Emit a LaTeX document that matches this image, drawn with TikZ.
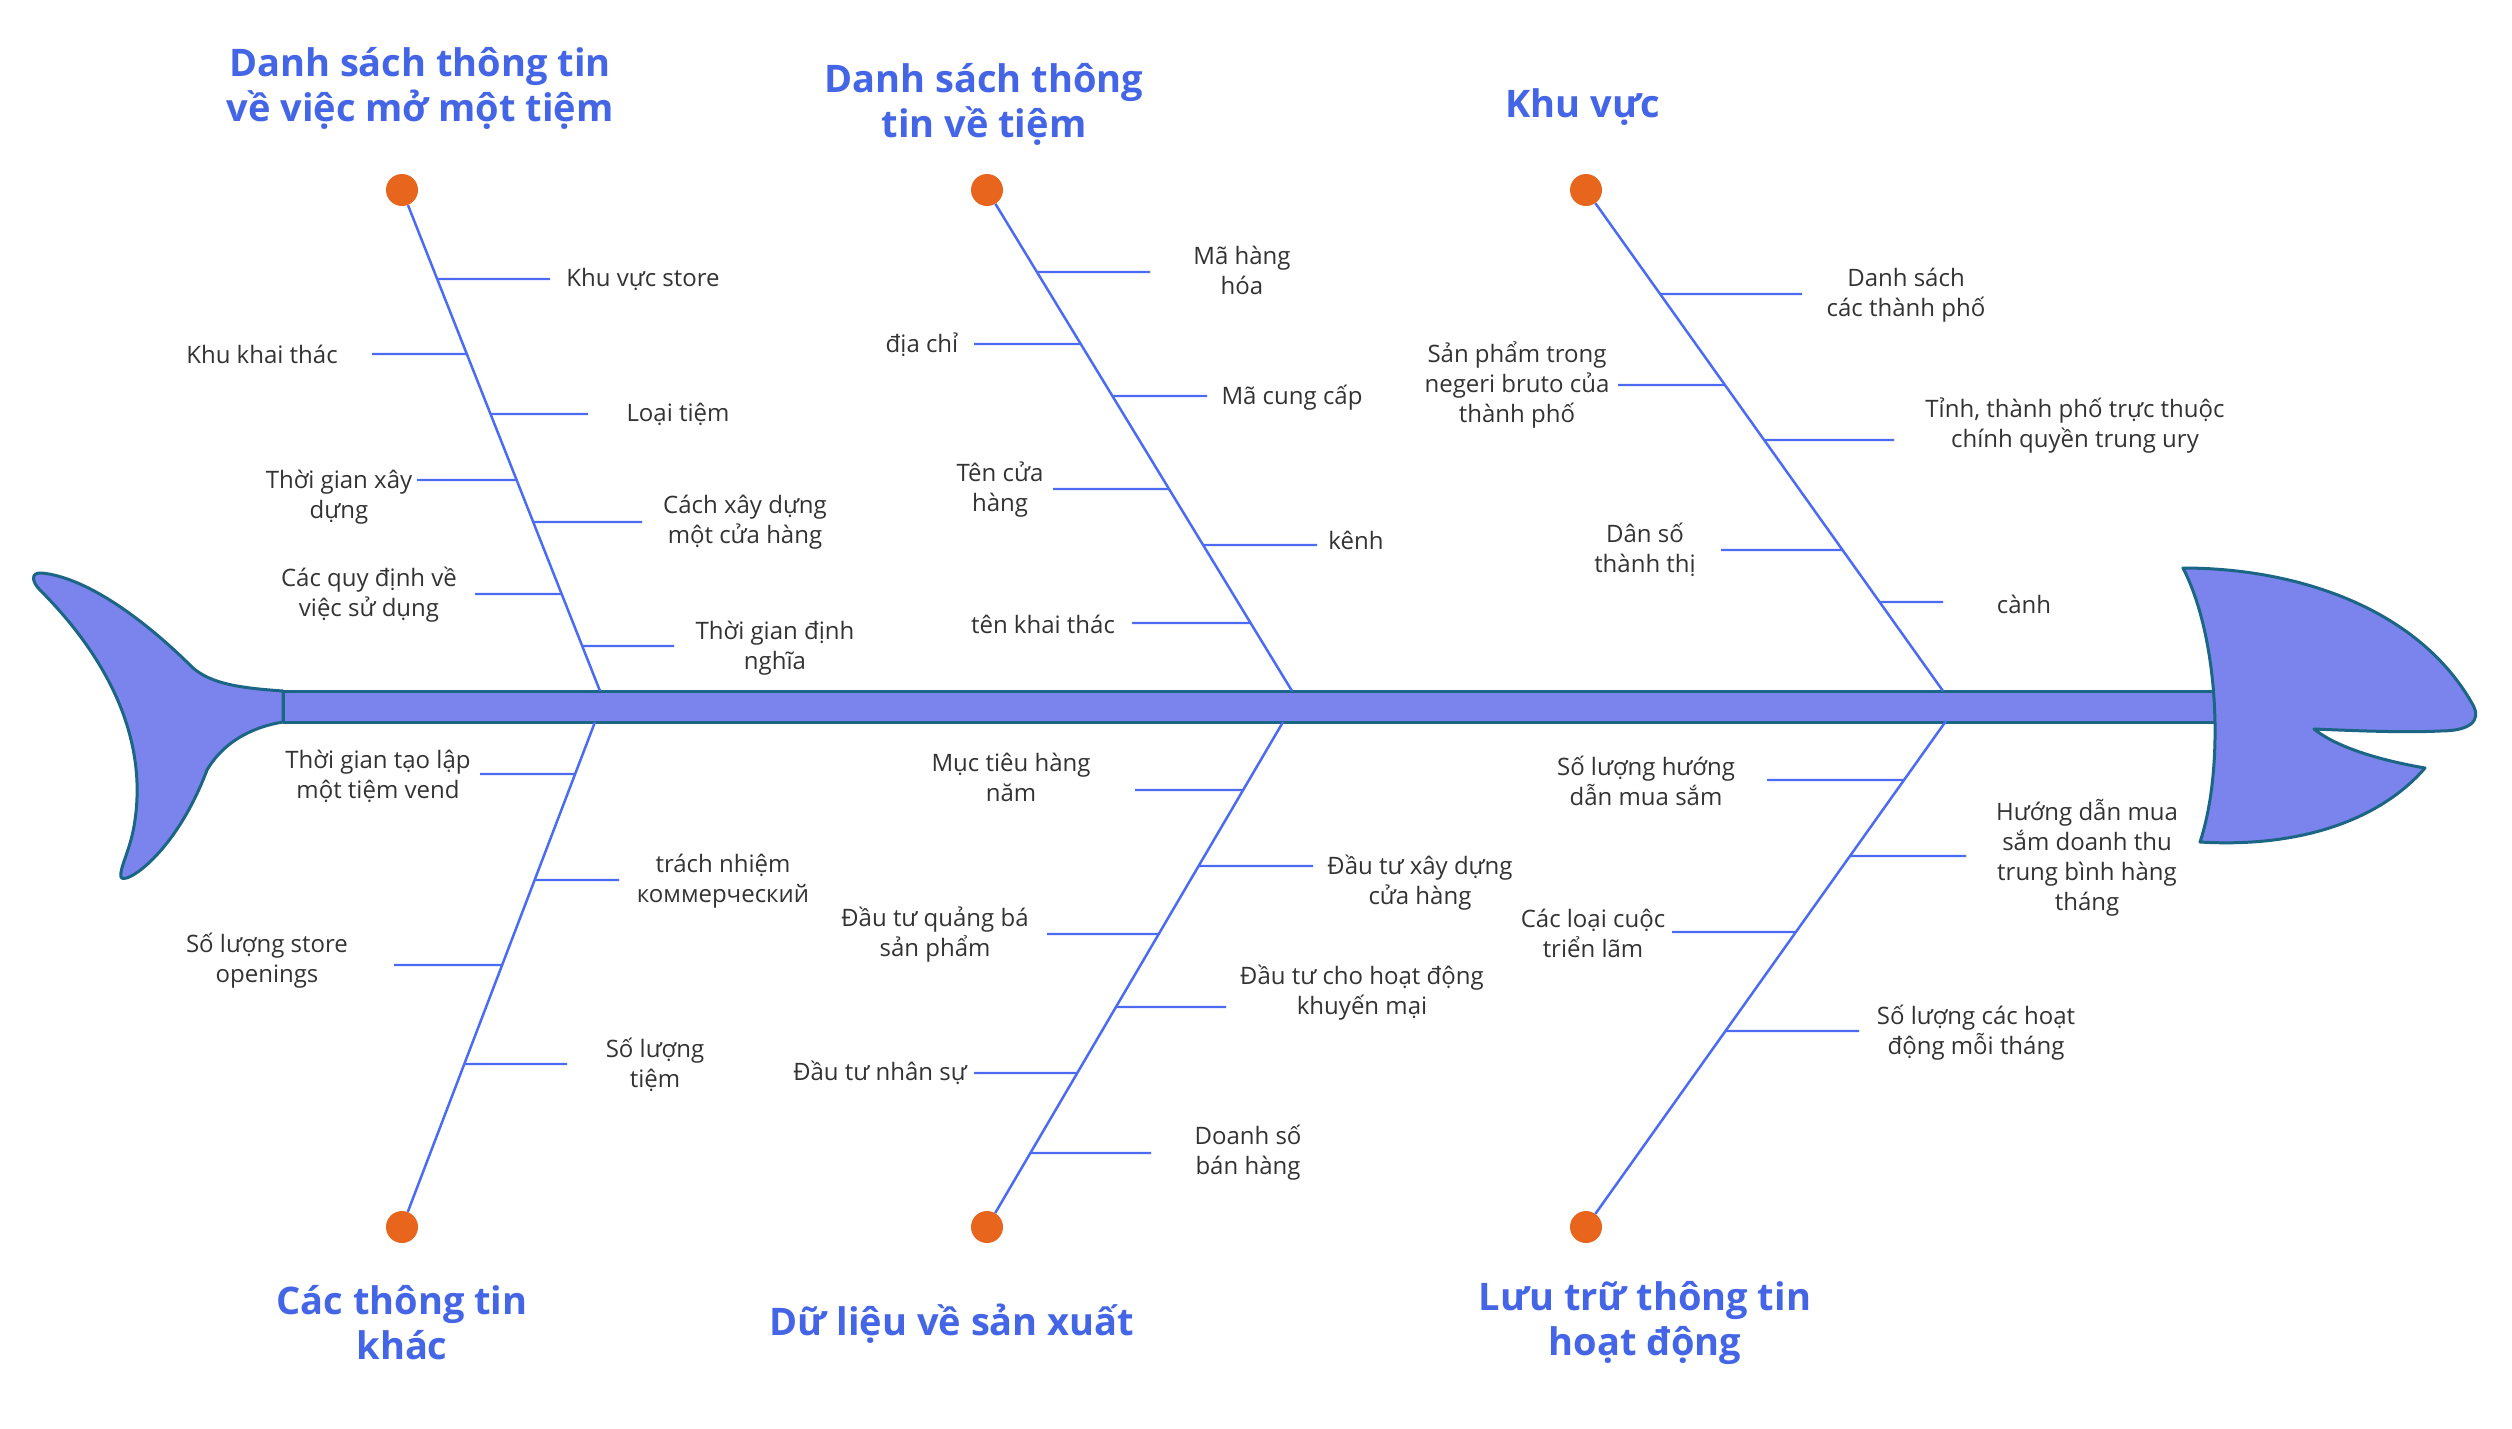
\documentclass[tikz,border=0pt]{standalone}
\usepackage{fontspec}
\setmainfont{Open Sans}
\usetikzlibrary{calc}
\definecolor{Body}{HTML}{7A84EC}
\definecolor{Edge}{HTML}{1B6585}
\definecolor{Bone}{HTML}{4B6CF2}
\definecolor{Head}{HTML}{4466E6}
\definecolor{Dot}{HTML}{E8651E}
\definecolor{Ink}{HTML}{333333}

\begin{document}
\begin{tikzpicture}[x=1pt,y=-1pt,
  fish/.style={fill=Body,draw=Edge,line width=3pt,line join=round},
  bone/.style={Bone,line width=2.5pt},
  rib/.style={Bone,line width=2.2pt},
  dot/.style={circle,fill=Dot,inner sep=0pt,minimum size=32pt},
  lbl/.style={text=Ink,align=center,inner sep=0pt,font=\fontsize{24}{30}\selectfont},
  ttl/.style={text=Head,align=center,inner sep=0pt,font=\fontsize{38}{45}\selectfont\bfseries}]
  \fill[white] (0,0) rectangle (2512,1428);
  \useasboundingbox (0,0) rectangle (2512,1428);

  % tail, spine, head
  \draw[fish] (283,691) .. controls (240,688) and (212,684) .. (193,668)
    .. controls (150,625) and (90,578) .. (42,573)
    .. controls (30,572) and (32,582) .. (40,590)
    .. controls (100,650) and (148,730) .. (135,820)
    .. controls (131,850) and (119,868) .. (121,877)
    .. controls (124,886) and (175,855) .. (207,770)
    .. controls (226,738) and (258,726) .. (283,722) -- cycle;
  \draw[fish] (283,691) rectangle (2215,722);
  \draw[fish] (2183,568) .. controls (2300,568) and (2420,610) .. (2473,705)
    .. controls (2482,722) and (2468,731) .. (2440,731)
    .. controls (2400,733) and (2340,730) .. (2314,729)
    .. controls (2340,750) and (2390,762) .. (2425,768)
    .. controls (2380,820) and (2300,848) .. (2200,842)
    .. controls (2224,770) and (2220,640) .. (2183,568) -- cycle;

  % big bones
  \node[dot] (d1) at (402,190) {};
  \node[dot] (d2) at (987,190) {};
  \node[dot] (d3) at (1586,190) {};
  \node[dot] (d4) at (402,1227) {};
  \node[dot] (d5) at (987,1227) {};
  \node[dot] (d6) at (1586,1227) {};
  \coordinate (s1) at (600,691);
  \coordinate (s2) at (1292,691);
  \coordinate (s3) at (1943,691);
  \coordinate (s4) at (595,722);
  \coordinate (s5) at (1283,722);
  \coordinate (s6) at (1946,721);
  \foreach \i in {1,...,6}
    \draw[bone] (d\i) -- (s\i);

  % titles
  \node[ttl] (h1) at (420,88) {Danh sách thông tin\\về việc mở một tiệm};
  \node[ttl] (h2) at (984,104) {Danh sách thông\\tin về tiệm};
  \node[ttl] (h3) at (1583,107) {Khu vực};
  \node[ttl] (h4) at (402,1323) {Các thông tin\\khác};
  \node[ttl] (h5) at (952,1324) {Dữ liệu về sản xuất};
  \node[ttl] (h6) at (1645,1323) {Lưu trữ thông tin\\hoạt động};

  % small bones: y / rib end / label x / label y / text
  \foreach \y/\ex/\lx/\ly/\txt [count=\i] in {
      279/550/643/279/{Khu vực store},
      354/372/262/354/{Khu khai thác},
      414/588/678/414/{Loại tiệm},
      480/417/339/497/{Thời gian xây\\dựng},
      522/642/745/522/{Cách xây dựng\\một cửa hàng},
      594/475/369/595/{Các quy định về\\việc sử dụng},
      646/674/775/648/{Thời gian định\\nghĩa}}{
    \coordinate (a1\i) at ($(d1)!{(\y-190)/501}!(s1)$);
    \coordinate (b1\i) at (\ex,\y);
    \draw[rib] (a1\i) -- (b1\i);
    \node[lbl] (t1\i) at (\lx,\ly) {\txt};
  }
  \foreach \y/\ex/\lx/\ly/\txt [count=\i] in {
      272/1150/1242/270/{Mã hàng\\hóa},
      344/974/922/345/{địa chỉ},
      396/1207/1292/398/{Mã cung cấp},
      489/1053/1000/490/{Tên cửa\\hàng},
      545/1317/1356/540/{kênh},
      623/1132/1043/624/{tên khai thác}}{
    \coordinate (a2\i) at ($(d2)!{(\y-190)/501}!(s2)$);
    \coordinate (b2\i) at (\ex,\y);
    \draw[rib] (a2\i) -- (b2\i);
    \node[lbl] (t2\i) at (\lx,\ly) {\txt};
  }
  \foreach \y/\ex/\lx/\ly/\txt [count=\i] in {
      294/1802/1906/295/{Danh sách\\các thành phố},
      385/1618/1517/385/{Sản phẩm trong\\negeri bruto của\\thành phố},
      440/1894/2075/426/{Tỉnh, thành phố trực thuộc\\chính quyền trung ury},
      550/1721/1645/550/{Dân số\\thành thị},
      602/1943/2024/604/{cành}}{
    \coordinate (a3\i) at ($(d3)!{(\y-190)/501}!(s3)$);
    \coordinate (b3\i) at (\ex,\y);
    \draw[rib] (a3\i) -- (b3\i);
    \node[lbl] (t3\i) at (\lx,\ly) {\txt};
  }
  \foreach \y/\ex/\lx/\ly/\txt [count=\i] in {
      774/480/378/776/{Thời gian tạo lập\\một tiệm vend},
      880/619/723/881/{trách nhiệm\\коммерческий},
      965/394/267/961/{Số lượng store\\openings},
      1064/567/655/1065/{Số lượng\\tiệm}}{
    \coordinate (a4\i) at ($(d4)!{(1227-\y)/505}!(s4)$);
    \coordinate (b4\i) at (\ex,\y);
    \draw[rib] (a4\i) -- (b4\i);
    \node[lbl] (t4\i) at (\lx,\ly) {\txt};
  }
  \foreach \y/\ex/\lx/\ly/\txt [count=\i] in {
      790/1135/1011/777/{Mục tiêu hàng\\năm},
      866/1313/1420/883/{Đầu tư xây dựng\\cửa hàng},
      934/1047/935/935/{Đầu tư quảng bá\\sản phẩm},
      1007/1226/1362/993/{Đầu tư cho hoạt động\\khuyến mại},
      1073/974/880/1073/{Đầu tư nhân sự},
      1153/1151/1248/1153/{Doanh số\\bán hàng}}{
    \coordinate (a5\i) at ($(d5)!{(1227-\y)/505}!(s5)$);
    \coordinate (b5\i) at (\ex,\y);
    \draw[rib] (a5\i) -- (b5\i);
    \node[lbl] (t5\i) at (\lx,\ly) {\txt};
  }
  \foreach \y/\ex/\lx/\ly/\txt [count=\i] in {
      780/1767/1646/781/{Số lượng hướng\\dẫn mua sắm},
      856/1966/2087/858/{Hướng dẫn mua\\sắm doanh thu\\trung bình hàng\\tháng},
      932/1672/1593/933/{Các loại cuộc\\triển lãm},
      1031/1859/1976/1033/{Số lượng các hoạt\\động mỗi tháng}}{
    \coordinate (a6\i) at ($(d6)!{(1227-\y)/506}!(s6)$);
    \coordinate (b6\i) at (\ex,\y);
    \draw[rib] (a6\i) -- (b6\i);
    \node[lbl] (t6\i) at (\lx,\ly) {\txt};
  }
\end{tikzpicture}
\end{document}
